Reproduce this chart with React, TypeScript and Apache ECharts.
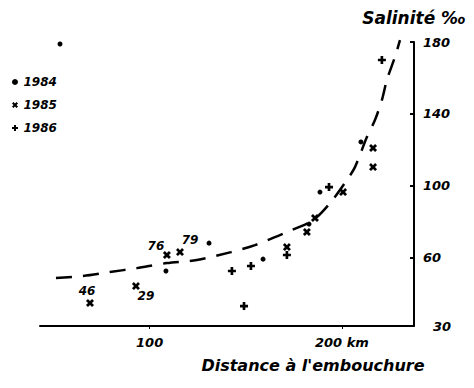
import React, { useEffect, useRef } from "react";
import * as echarts from "echarts";

// Axis ranges (km, salinity). The bottom of the salinity axis is a broken scale labelled "30".
const xMin = 43;
const xMax = 237.5;
const yMin = 22;
const yMax = 180;

const xTickValues = [100, 200];
const xTickLabels = ["100", "200 km"];
const yTickValues = [22, 60, 100, 140, 180];
const yTickLabels = ["30", "60", "100", "140", "180"];

// Dashed fitted curve
const curveKm = [51.3, 65.4, 79.4, 93.4, 109.0, 124.6, 142.3, 154.8, 171.4, 185.0, 194.3, 202.6, 206.8, 213.0, 217.2, 220.8, 223.4, 227.6, 230.2];
const curveSal = [48.7, 49.8, 52.0, 54.2, 57.0, 58.7, 63.1, 67.0, 74.3, 80.9, 91.0, 103.2, 110.4, 127.1, 136.6, 147.7, 158.9, 171.7, 181.0];

// 1984 (dots)
const km1984 = [53.4, 108.5, 130.9, 159.0, 182.9, 188.6, 209.9];
const sal1984 = [178.9, 52.6, 68.1, 59.2, 78.7, 96.5, 124.4];

// 1985 (crosses)
const km1985 = [69.0, 92.9, 109.0, 115.8, 171.4, 181.8, 186.0, 200.6, 216.2, 216.2];
const sal1985 = [34.8, 44.2, 61.5, 63.1, 65.9, 74.3, 82.1, 96.5, 121.0, 110.4];
const labels1985 = ["46", "29", "76", "79", "", "", "", "", "", ""];
const labelOffsets1985: number[][] = [[-3, -12], [10, 10], [-11, -9], [10, -12]];

// 1986 (plus signs)
const km1986 = [142.8, 152.7, 171.4, 193.3, 220.8, 149.1];
const sal1986 = [52.6, 55.4, 61.5, 99.3, 170.0, 33.1];

const seriesNames = ["1984", "1985", "1986"];
const yTitle = "Salinité ‰";
const xTitle = "Distance à l'embouchure";

const FONT = "DejaVu Sans";
const INK = "#000";
const plusPath = "path://M3,0H6V3H9V6H6V9H3V6H0V3H3Z";
const crossPath = "path://M0,2.2L2.2,0L4.5,2.3L6.8,0L9,2.2L6.7,4.5L9,6.8L6.8,9L4.5,6.7L2.2,9L0,6.8L2.3,4.5Z";

export default function App() {
  const ref = useRef<HTMLDivElement>(null);

  useEffect(() => {
    if (!ref.current) return;
    const chart = echarts.init(ref.current, null, { renderer: "svg" });

    const textBase = {
      color: INK,
      fontFamily: FONT,
      fontWeight: "bold" as const,
      fontStyle: "italic" as const,
    };

    const data1985 = km1985.map((k, i) => {
      const item: any = { value: [k, sal1985[i]] };
      if (labels1985[i]) {
        item.label = {
          show: true,
          position: "inside",
          formatter: labels1985[i],
          offset: labelOffsets1985[i],
          ...textBase,
          fontSize: 12,
        };
      }
      return item;
    });

    const markStyle = { color: INK, opacity: 1 };

    chart.setOption({
      animation: false,
      backgroundColor: "#fff",
      grid: {
        left: 40,
        right: 60,
        top: 42,
        bottom: 62,
        outerBoundsMode: "none",
      },
      legend: {
        data: [
          { name: seriesNames[0], icon: "circle", itemStyle: { color: INK } },
          { name: seriesNames[1], icon: crossPath },
          { name: seriesNames[2], icon: plusPath },
        ],
        orient: "vertical",
        left: 7,
        top: 71,
        itemWidth: 7,
        itemHeight: 6,
        itemGap: 11,
        selectedMode: false,
        itemStyle: { color: INK, opacity: 1 },
        textStyle: { ...textBase, fontSize: 12 },
      },
      xAxis: {
        type: "value",
        min: xMin,
        max: xMax,
        splitLine: { show: false },
        axisLine: { show: true, lineStyle: { color: INK, width: 2 } },
        axisTick: {
          show: true,
          customValues: xTickValues,
          length: 3,
          lineStyle: { color: INK, width: 1 },
        },
        axisLabel: {
          customValues: xTickValues,
          formatter: (v: number) => xTickLabels[xTickValues.indexOf(v)] ?? "",
          margin: 10,
          ...textBase,
          fontSize: 13,
        },
      },
      yAxis: {
        type: "value",
        position: "right",
        min: yMin,
        max: yMax,
        name: yTitle,
        nameLocation: "end",
        nameGap: 24,
        nameTextStyle: { ...textBase, fontSize: 17, align: "center", verticalAlign: "middle" },
        splitLine: { show: false },
        axisLine: { show: true, lineStyle: { color: INK, width: 2 } },
        axisTick: {
          show: true,
          inside: true,
          customValues: [60, 100, 140, 180],
          length: 4,
          lineStyle: { color: INK, width: 2 },
        },
        axisLabel: {
          customValues: yTickValues,
          formatter: (v: number) => {
            const t = yTickLabels[yTickValues.indexOf(v)] ?? "";
            return v === yMin ? "{b|" + t + "}" : t;
          },
          margin: 9,
          ...textBase,
          fontSize: 13,
          rich: { b: { ...textBase, fontSize: 13, padding: [0, 0, 0, 10] } },
        },
      },
      graphic: [
        {
          type: "text",
          x: 313,
          y: 365,
          style: {
            text: xTitle,
            fill: INK,
            font: "italic bold 16px 'DejaVu Sans'",
            textAlign: "center",
            textVerticalAlign: "middle",
          },
        },
      ],
      series: [
        {
          name: "curve",
          type: "line",
          data: curveKm.map((k, i) => [k, curveSal[i]]),
          smooth: 0.3,
          showSymbol: false,
          symbol: "none",
          clip: false,
          silent: true,
          lineStyle: { color: INK, width: 2.5, type: [16, 11] },
          z: 1,
        },
        {
          name: seriesNames[0],
          type: "scatter",
          symbol: "circle",
          symbolSize: 5,
          itemStyle: markStyle,
          data: km1984.map((k, i) => [k, sal1984[i]]),
          z: 3,
        },
        {
          name: seriesNames[1],
          type: "scatter",
          symbol: crossPath,
          symbolSize: 8,
          itemStyle: markStyle,
          data: data1985,
          z: 3,
        },
        {
          name: seriesNames[2],
          type: "scatter",
          symbol: plusPath,
          symbolSize: 8,
          itemStyle: markStyle,
          data: km1986.map((k, i) => [k, sal1986[i]]),
          z: 3,
        },
      ],
    });

    return () => chart.dispose();
  }, []);

  return (
    <div
      ref={ref}
      style={{ position: "fixed", left: 0, top: 0, width: 474, height: 388, background: "#fff" }}
    />
  );
}
